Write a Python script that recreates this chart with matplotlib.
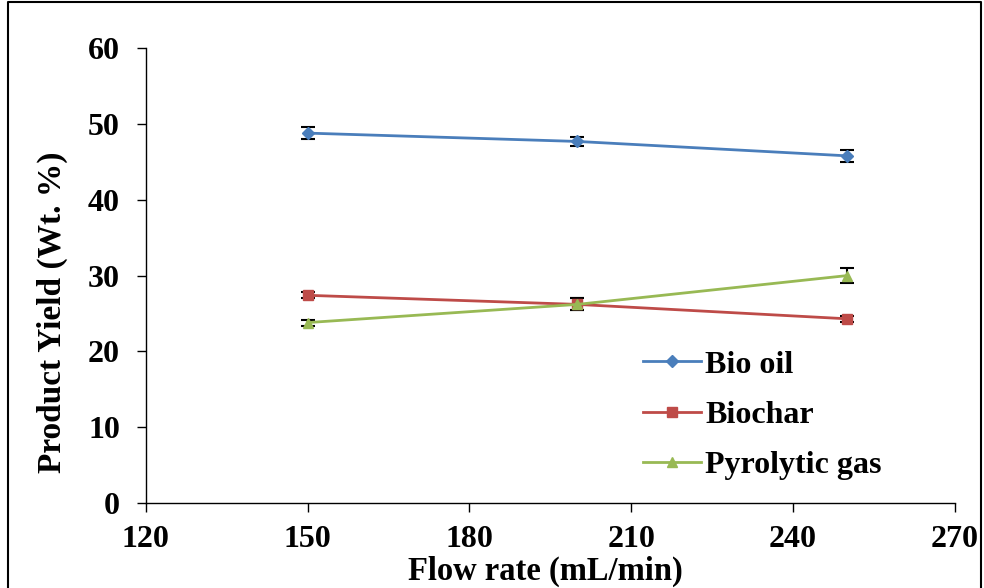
import matplotlib.pyplot as plt
import numpy as np

plt.rcParams['font.family'] = ['Liberation Serif', 'DejaVu Serif']
plt.rcParams['font.weight'] = 'bold'

flow = [150, 200, 250]
bio_oil = [48.8, 47.7, 45.8]
bio_oil_err = [0.8, 0.6, 0.8]
biochar = [27.4, 26.2, 24.3]
biochar_err = [0.4, 0.8, 0.4]
gas = [23.8, 26.2, 30.0]
gas_err = [0.4, 0.8, 1.0]

fig = plt.figure(figsize=(9.84, 5.88), dpi=100)
ax = fig.add_axes([0.148, 0.1446, 0.8225, 0.7734])

series = [
    ('Bio oil', bio_oil, bio_oil_err, '#4a7ebb', 'D', 6),
    ('Biochar', biochar, biochar_err, '#be4b48', 's', 6.5),
    ('Pyrolytic gas', gas, gas_err, '#98b954', '^', 7.5),
]
for name, y, err, c, m, ms in series:
    ax.errorbar(flow, y, yerr=err, color=c, marker=m, markersize=ms, lw=2,
                ecolor='black', elinewidth=1.5, capsize=5, capthick=1.5,
                label=name)

ax.set_xlim(120, 270)
ax.set_ylim(0, 60)
ax.set_xticks(np.arange(120, 271, 30))
ax.set_yticks(np.arange(0, 61, 10))
ax.tick_params(direction='out', length=6.5, width=1, labelsize=23)
ax.tick_params(axis='y', pad=12)
ax.tick_params(axis='x', pad=9)
for s in ['top', 'right']:
    ax.spines[s].set_visible(False)
for s in ['left', 'bottom']:
    ax.spines[s].set_linewidth(1)

ax.set_xlabel('Flow rate (mL/min)', fontsize=23.5, fontweight='bold')
ax.set_ylabel('Product Yield (Wt. %)', fontsize=24, fontweight='bold')
ax.xaxis.set_label_coords(0.494, -0.117)
ax.yaxis.set_label_coords(-0.096, 0.42)

handles, labels = ax.get_legend_handles_labels()
handles = [h[0] for h in handles]
fig.legend(handles, labels, loc='center left', bbox_to_anchor=(643 / 984, (588 - 415) / 588),
           frameon=False, fontsize=23, handlelength=1.8, labelspacing=0.65,
           handletextpad=0.15, borderpad=0, borderaxespad=0)

fig.add_artist(plt.Line2D([8 / 984, 8 / 984, 981 / 984, 981 / 984],
                          [0, 586 / 588, 586 / 588, 0],
                          transform=fig.transFigure, color='black', lw=1.5))

fig.savefig('out.png', dpi=100)
